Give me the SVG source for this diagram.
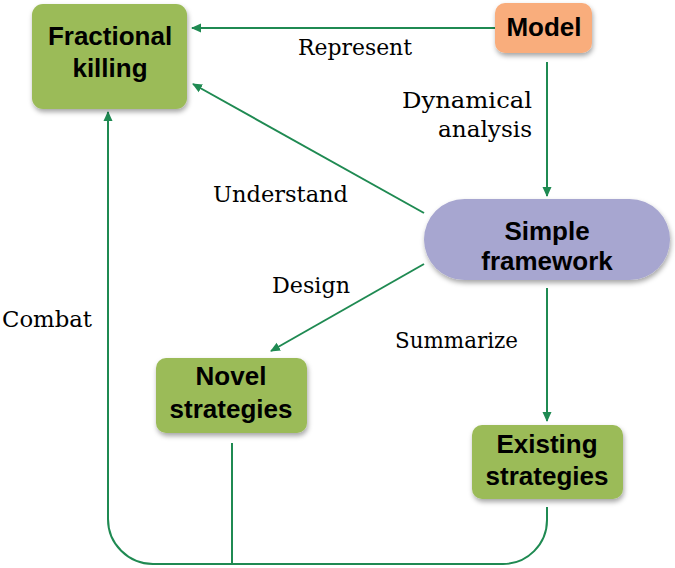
<svg xmlns="http://www.w3.org/2000/svg" width="675" height="568" viewBox="0 0 675 568">
<defs>
<filter id="sh" x="-10%" y="-10%" width="125%" height="135%">
<feDropShadow dx="1" dy="3" stdDeviation="2.5" flood-color="#000" flood-opacity="0.35"/>
</filter>
<marker id="ah" viewBox="0 0 10 10" refX="9" refY="5" markerWidth="10" markerHeight="10" markerUnits="userSpaceOnUse" orient="auto">
<path d="M0,0.5 L10,5 L0,9.5 Z" fill="#1f8a52"/>
</marker>
<style>
.g{fill:#9bbb59;filter:url(#sh)}
.o{fill:#f9ad7c;filter:url(#sh)}
.p{fill:#a7a6d0;filter:url(#sh)}
.b{font-family:"Liberation Sans",Arial,sans-serif;font-weight:bold;font-size:26px;fill:#000;text-anchor:middle}
.l{font-family:"DejaVu Serif",serif;font-size:22px;fill:#000}
.c{fill:none;stroke:#1f8a52;stroke-width:2}
</style>
</defs>
<g id="connectors">
<path class="c" d="M495,28 L192,28" marker-end="url(#ah)"/>
<path class="c" d="M547,62 L547,196" marker-end="url(#ah)"/>
<path class="c" d="M424,213 L193,84" marker-end="url(#ah)"/>
<path class="c" d="M424,264 L271,351" marker-end="url(#ah)"/>
<path class="c" d="M547,288 L547,421" marker-end="url(#ah)"/>
<path class="c" d="M547,507 L547,520 A44,44 0 0 1 503,564 L153,564 A45,45 0 0 1 108,519 L108,112" marker-end="url(#ah)"/>
<path class="c" d="M232,443 L232,564"/>
<text class="l" x="298" y="55" textLength="114" lengthAdjust="spacingAndGlyphs">Represent</text>
<text class="l" x="402" y="108" textLength="130" lengthAdjust="spacingAndGlyphs">Dynamical</text>
<text class="l" x="438" y="137" textLength="94" lengthAdjust="spacingAndGlyphs">analysis</text>
<text class="l" x="213" y="202" textLength="135" lengthAdjust="spacingAndGlyphs">Understand</text>
<text class="l" x="272" y="293" textLength="78" lengthAdjust="spacingAndGlyphs">Design</text>
<text class="l" x="395" y="348" textLength="123" lengthAdjust="spacingAndGlyphs">Summarize</text>
<text class="l" x="2" y="327" textLength="90" lengthAdjust="spacingAndGlyphs">Combat</text>
</g>
<g id="fractional-killing">
<rect class="g" x="32" y="4" width="155" height="105" rx="11"/>
<text class="b" x="110" y="45">Fractional</text>
<text class="b" x="110" y="77">killing</text>
</g>
<g id="model">
<rect class="o" x="495" y="3" width="97" height="50" rx="10"/>
<text class="b" x="544" y="36" font-size="25">Model</text>
</g>
<g id="simple-framework">
<rect class="p" x="424" y="199" width="246" height="81" rx="40.5"/>
<text class="b" x="547" y="240">Simple</text>
<text class="b" x="547" y="270">framework</text>
</g>
<g id="novel-strategies">
<rect class="g" x="156" y="358" width="151" height="75" rx="10"/>
<text class="b" x="231" y="385">Novel</text>
<text class="b" x="231" y="418">strategies</text>
</g>
<g id="existing-strategies">
<rect class="g" x="472" y="425" width="151" height="74" rx="10"/>
<text class="b" x="547" y="453">Existing</text>
<text class="b" x="547" y="485">strategies</text>
</g>
</svg>
